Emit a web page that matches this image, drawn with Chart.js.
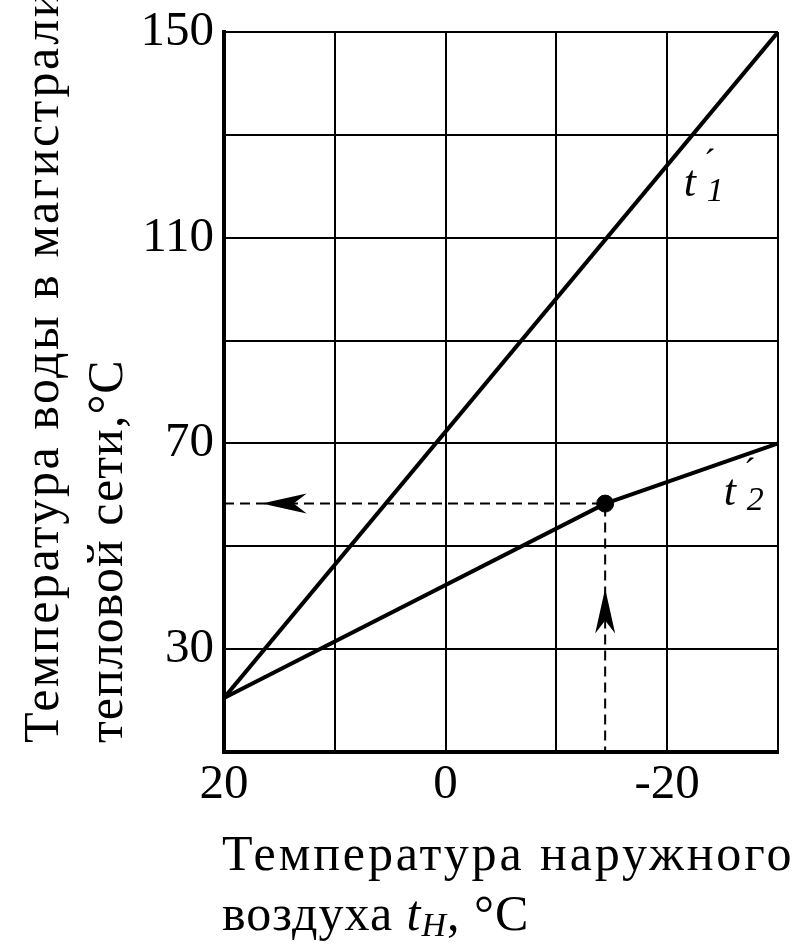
<!DOCTYPE html>
<html lang="ru">
<head>
    <meta charset="UTF-8">
    <title>Температурный график</title>
    <script src="https://cdn.jsdelivr.net/npm/chart.js"></script>
    <style>
        body { margin: 0; background: #fff; }
        #wrap { width: 800px; height: 951px; position: relative; }
    </style>
</head>
<body>
    <div id="wrap"><canvas id="tempChart"></canvas></div>

    <script>
        // Данные графика
        const xTickLabels = [20, 0, -20];          // подписанные деления оси X
        const yTickLabels = [30, 70, 110, 150];    // подписанные деления оси Y

        const t1Outdoor = [20, -30];               // линия t'1
        const t1Water = [20.5, 150];

        const t2Outdoor = [20, -14.4, -30];        // линия t'2 (с изломом)
        const t2Water = [20.5, 58.3, 70];

        const pointOutdoor = [-14.4];              // расчетная точка
        const pointWater = [58.3];

        const arrowOutdoor = [16.6, -14.4];        // острия стрелок
        const arrowWater = [58.3, 41.8];
        const arrowDir = ['left', 'up'];

        const lineLabels = ['1', '2'];
        const labelOutdoor = [-21.5, -25.1];
        const labelWater = [118.2, 58.0];

        const yTitle = ['Температура воды в магистрали', 'тепловой сети,°С'];
        const xTitle = ['Температура наружного', 'воздуха '];

        const FONT = "'Liberation Serif', 'Times New Roman', serif";

        function toPoints(xs, ys) {
            return xs.map((x, i) => ({ x: x, y: ys[i] }));
        }

        // Подписи, стрелки и заголовки осей
        const extrasPlugin = {
            id: 'extras',
            afterDraw(chart) {
                const ctx = chart.ctx;
                const xs = chart.scales.x;
                const ys = chart.scales.y;
                ctx.save();
                ctx.fillStyle = '#000';

                // стрелки
                arrowDir.forEach((dir, i) => {
                    const px = xs.getPixelForValue(arrowOutdoor[i]);
                    const py = ys.getPixelForValue(arrowWater[i]);
                    ctx.save();
                    ctx.translate(px, py);
                    if (dir === 'up') ctx.rotate(Math.PI / 2);
                    ctx.beginPath();
                    ctx.moveTo(0, 0);
                    ctx.lineTo(45, -10);
                    ctx.lineTo(32, 0);
                    ctx.lineTo(45, 10);
                    ctx.closePath();
                    ctx.fill();
                    ctx.restore();
                });

                // подписи линий t'1, t'2
                ctx.textAlign = 'left';
                ctx.textBaseline = 'alphabetic';
                lineLabels.forEach((sub, i) => {
                    const px = xs.getPixelForValue(labelOutdoor[i]);
                    const py = ys.getPixelForValue(labelWater[i]);
                    ctx.font = 'italic 44px ' + FONT;
                    ctx.fillText('t', px, py);
                    ctx.font = 'italic 34px ' + FONT;
                    ctx.fillText(sub, px + 23, py + 5);
                    ctx.font = '36px ' + FONT;
                    ctx.fillText('´', px + 20, py - 22);
                });

                // заголовок оси Y (повернутый)
                ctx.font = '50px ' + FONT;
                [[58, '2.5px'], [122, '1px']].forEach((p, i) => {
                    ctx.save();
                    ctx.letterSpacing = p[1];
                    ctx.translate(p[0], 743);
                    ctx.rotate(-Math.PI / 2);
                    ctx.fillText(yTitle[i], 0, 0);
                    ctx.restore();
                });

                // заголовок оси X
                ctx.font = '50px ' + FONT;
                ctx.letterSpacing = '2.9px';
                ctx.fillText(xTitle[0], 222, 870);
                ctx.letterSpacing = '1px';
                ctx.fillText(xTitle[1], 222, 930);
                let cx = 222 + ctx.measureText(xTitle[1]).width;
                ctx.font = 'italic 50px ' + FONT;
                ctx.fillText('t', cx, 930);
                cx += ctx.measureText('t').width;
                ctx.font = 'italic 34px ' + FONT;
                ctx.fillText('H', cx, 936);
                cx += ctx.measureText('H').width;
                ctx.font = '50px ' + FONT;
                ctx.fillText(', °С', cx, 930);

                ctx.restore();
            }
        };

        const ctx = document.getElementById('tempChart').getContext('2d');
        new Chart(ctx, {
            type: 'line',
            data: {
                datasets: [
                    {
                        data: toPoints([20, pointOutdoor[0], pointOutdoor[0]], [pointWater[0], pointWater[0], 10]),
                        borderColor: '#000',
                        borderWidth: 2,
                        borderDash: [10, 6],
                        pointRadius: 0,
                        tension: 0
                    },
                    {
                        data: toPoints(t1Outdoor, t1Water),
                        borderColor: '#000',
                        borderWidth: 4,
                        pointRadius: 0,
                        tension: 0
                    },
                    {
                        data: toPoints(t2Outdoor, t2Water),
                        borderColor: '#000',
                        borderWidth: 4,
                        pointRadius: 0,
                        tension: 0
                    },
                    {
                        data: toPoints(pointOutdoor, pointWater),
                        showLine: false,
                        pointRadius: 8.5,
                        pointBackgroundColor: '#000',
                        pointBorderColor: '#000'
                    }
                ]
            },
            options: {
                responsive: true,
                maintainAspectRatio: false,
                animation: false,
                layout: { padding: { left: 0, top: 32, right: 22, bottom: 0 } },
                plugins: {
                    legend: { display: false },
                    tooltip: { enabled: false }
                },
                scales: {
                    x: {
                        type: 'linear',
                        min: -30,
                        max: 20,
                        reverse: true,
                        afterFit: (scale) => {
                            scale.height = 199;
                            scale.paddingLeft = 0;
                            scale.paddingRight = 0;
                        },
                        grid: { color: '#000', lineWidth: 2, drawTicks: false },
                        border: { color: '#000', width: 4 },
                        ticks: {
                            stepSize: 10,
                            padding: 4,
                            color: '#000',
                            font: { family: FONT, size: 49 },
                            maxRotation: 0,
                            autoSkip: false,
                            callback: (v) => xTickLabels.includes(v) ? String(v) : ''
                        }
                    },
                    y: {
                        min: 10,
                        max: 150,
                        afterFit: (scale) => {
                            scale.width = 224;
                            scale.paddingTop = 0;
                            scale.paddingBottom = 0;
                        },
                        grid: { color: '#000', lineWidth: 2, drawTicks: false },
                        border: { color: '#000', width: 4 },
                        ticks: {
                            stepSize: 20,
                            padding: 10,
                            color: '#000',
                            font: { family: FONT, size: 49 },
                            autoSkip: false,
                            callback: (v) => yTickLabels.includes(v) ? String(v) : ''
                        }
                    }
                }
            },
            plugins: [extrasPlugin]
        });
    </script>
</body>
</html>
